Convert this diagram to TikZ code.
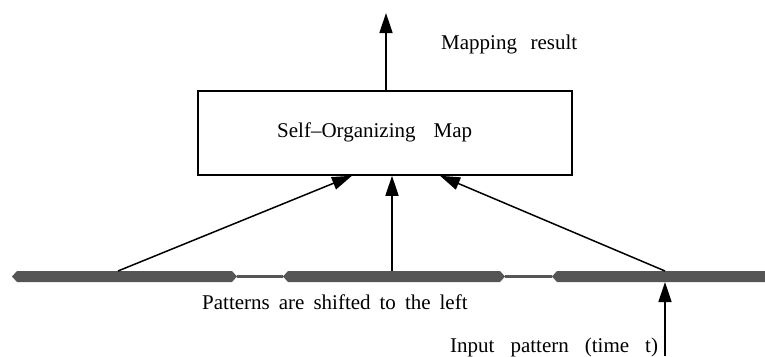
\documentclass[tikz,border=0pt]{standalone}
\usepackage{fontspec}
\setmainfont{Liberation Serif}
\usetikzlibrary{positioning, arrows.meta}
\definecolor{barGray}{HTML}{555555}

\newcommand{\patseg}[3]{% name, left x, right x
  \fill[barGray] (#2,276.5) -- (#2+5,271) -- (#3-5,271) -- (#3,276.5)
    -- (#3-5,282) -- (#2+5,282) -- cycle;
  \coordinate (#1) at ({(#2+#3)/2},276.5);}
\newcommand{\wgap}[1]{\hspace{#1pt}}

\begin{document}
\begin{tikzpicture}[
    x=1pt, y=-1pt,
    >={Triangle[length=20pt, width=13pt]},
    sombox/.style={
        draw, line width=1.5pt, minimum width=374pt, minimum height=84pt,
        inner sep=0pt
    },
    txt/.style={font=\fontsize{21}{24}\selectfont, inner sep=0pt},
    arr/.style={->, line width=1.5pt},
    link/.style={draw=barGray, line width=3pt},
]
\useasboundingbox (0,0) rectangle (765,356);

%% Self-Organizing Map
\node[sombox] (som) at (385,133) {};
\node[txt, anchor=base west] (somlbl) at (277,137) {Self--Organizing\wgap{18}Map};

%% output
\coordinate (out) at (386,13);
\draw[arr] (som.north -| out) -- (out);
\node[txt, anchor=base west] (res) at (441,49) {Mapping\wgap{13.5}result};

%% pattern buffer (bottom)
\patseg{seg1}{12}{237}
\patseg{seg2}{283}{505}
\patseg{seg3}{552}{775}
\draw[link] (237,276.5) -- (283,276.5);
\draw[link] (505,276.5) -- (552,276.5);

\coordinate (p1) at (118,271);
\coordinate (p2) at (392,271);
\coordinate (p3) at (665,271);
\coordinate (in) at (665,282);

%% buffer -> map
\draw[arr] (p1) -- (som.south -| 352,0);
\draw[arr] (p2) -- (som.south -| p2);
\draw[arr] (p3) -- (som.south -| 440,0);

\node[txt, anchor=base west] (shift) at (202,309)
    {Patterns\wgap{9}are\wgap{9}shifted\wgap{9}to\wgap{9}the\wgap{9}left};

%% input
\coordinate (src) at (665,356);
\draw[arr] (src) -- (in);
\node[txt, anchor=base west] (inp) at (450,352)
    {Input\wgap{16}pattern\wgap{16}(time\wgap{16}t)};

\end{tikzpicture}
\end{document}
